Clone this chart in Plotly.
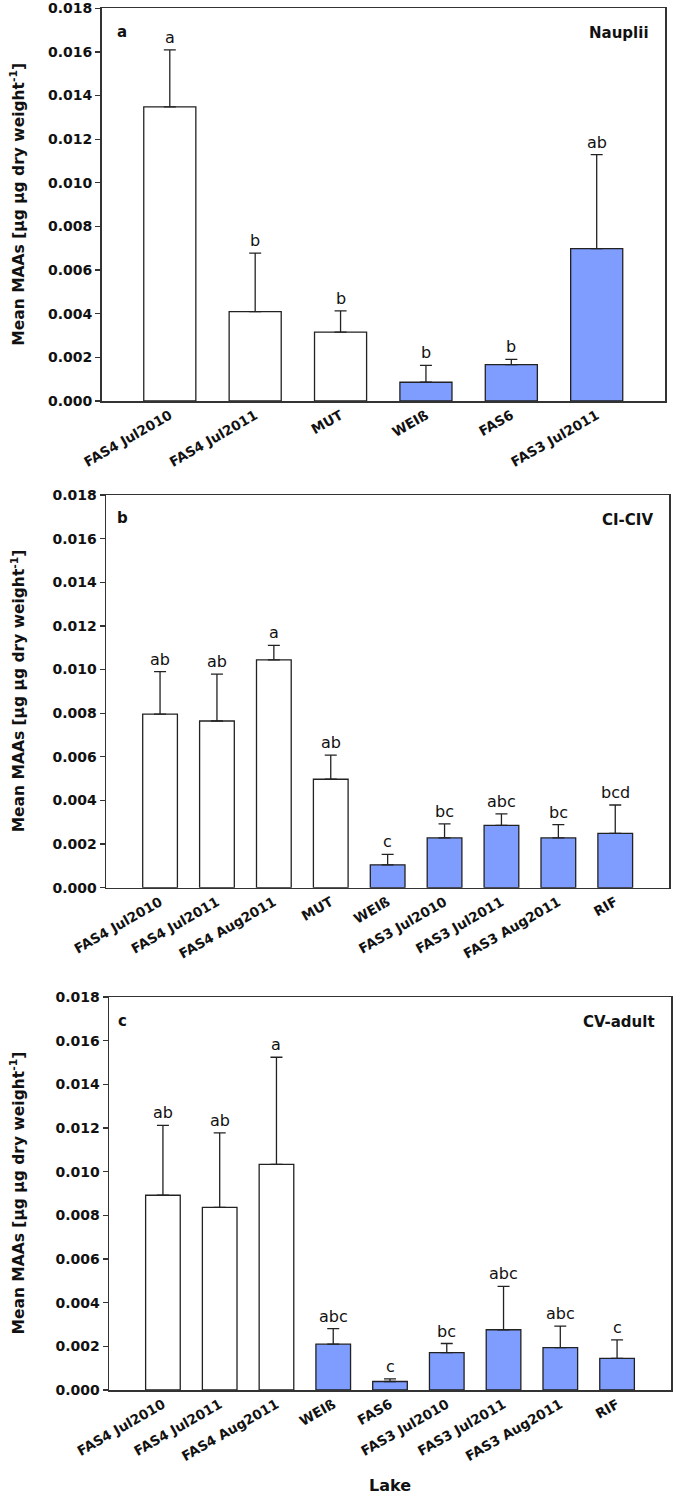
import plotly.graph_objects as go

# ---------------- data ----------------
cats_a = ["FAS4 Jul2010", "FAS4 Jul2011", "MUT", "WEIß", "FAS6", "FAS3 Jul2011"]
mean_a = [0.01348, 0.00410, 0.00316, 0.00086, 0.00167, 0.00698]
sd_a = [0.00261, 0.00268, 0.00097, 0.00077, 0.00024, 0.00431]
letters_a = ["a", "b", "b", "b", "b", "ab"]
group_a = ["open", "open", "open", "filled", "filled", "filled"]

cats_b = ["FAS4 Jul2010", "FAS4 Jul2011", "FAS4 Aug2011", "MUT", "WEIß",
          "FAS3 Jul2010", "FAS3 Jul2011", "FAS3 Aug2011", "RIF"]
mean_b = [0.00796, 0.00764, 0.01044, 0.00497, 0.00105, 0.00228, 0.00286, 0.00228, 0.00249]
sd_b = [0.00194, 0.00215, 0.00067, 0.00111, 0.00048, 0.00065, 0.00052, 0.00061, 0.00130]
letters_b = ["ab", "ab", "a", "ab", "c", "bc", "abc", "bc", "bcd"]
group_b = ["open", "open", "open", "open", "filled", "filled", "filled", "filled", "filled"]

cats_c = ["FAS4 Jul2010", "FAS4 Jul2011", "FAS4 Aug2011", "WEIß", "FAS6",
          "FAS3 Jul2010", "FAS3 Jul2011", "FAS3 Aug2011", "RIF"]
mean_c = [0.00892, 0.00836, 0.01033, 0.00210, 0.00039, 0.00171, 0.00276, 0.00194, 0.00145]
sd_c = [0.00320, 0.00342, 0.00491, 0.00071, 0.00012, 0.00042, 0.00199, 0.00099, 0.00085]
letters_c = ["ab", "ab", "a", "abc", "c", "bc", "abc", "abc", "c"]
group_c = ["open", "open", "open", "filled", "filled", "filled", "filled", "filled", "filled"]

panel_tags = ["a", "b", "c"]
panel_names = ["Nauplii", "CI-CIV", "CV-adult"]
y_ticks = [0.000, 0.002, 0.004, 0.006, 0.008, 0.010, 0.012, 0.014, 0.016, 0.018]
y_title = "Mean MAAs [µg µg dry weight<sup>-1</sup>]"
x_title = "Lake"

# ---------------- styling / layout ----------------
W, H = 675, 1498
FONT = "DejaVu Sans"
FILL = {"open": "#ffffff", "filled": "#7f9dff"}
EDGE = "#222222"
AXC = "#333333"
TXT = "#111111"

# pixel boxes: (left, right, top, bottom)
boxes = [(101.5, 665.0, 8.3, 401.0),
         (106.0, 669.3, 495.0, 887.7),
         (109.0, 671.0, 997.0, 1390.0)]
xranges = [[-0.8, 5.8], [-0.95, 8.95], [-0.95, 8.95]]

panels = [(cats_a, mean_a, sd_a, letters_a, group_a),
          (cats_b, mean_b, sd_b, letters_b, group_b),
          (cats_c, mean_c, sd_c, letters_c, group_c)]

fig = go.Figure()
annotations = []
layout = {}

for i, (cats, means, sds, letters, groups) in enumerate(panels):
    n = i + 1
    xa = "x" if n == 1 else f"x{n}"
    ya = "y" if n == 1 else f"y{n}"
    fig.add_trace(go.Bar(
        x=cats, y=means, xaxis=xa, yaxis=ya, width=0.61,
        marker=dict(color=[FILL[g] for g in groups], line=dict(color=EDGE, width=1.3)),
        error_y=dict(type="data", array=sds, arrayminus=[0] * len(sds), symmetric=False,
                     color=EDGE, thickness=1.3, width=6),
        showlegend=False, hoverinfo="skip",
    ))
    l, r, t, b = boxes[i]
    xkey = "xaxis" if n == 1 else f"xaxis{n}"
    ykey = "yaxis" if n == 1 else f"yaxis{n}"
    layout[xkey] = dict(domain=[l / W, r / W], anchor=ya, range=xranges[i], automargin=False,
                        showline=True, linecolor=AXC, linewidth=1.5, mirror=True,
                        ticks="", tickangle=-30, showgrid=False, zeroline=False,
                        tickfont=dict(family=FONT, size=13.5, color=TXT, weight="bold"))
    layout[ykey] = dict(domain=[1 - b / H, 1 - t / H], anchor=xa, range=[0, 0.018],
                        automargin=False,
                        showline=True, linecolor=AXC, linewidth=1.5, mirror=True,
                        ticks="outside", ticklen=5, tickwidth=1.3, tickcolor=AXC,
                        tickvals=y_ticks, ticktext=[f"{v:.3f}" for v in y_ticks],
                        showgrid=False, zeroline=False,
                        tickfont=dict(family=FONT, size=14, color=TXT, weight="bold"))
    # significance letters
    for c, m, s, lt in zip(cats, means, sds, letters):
        annotations.append(dict(x=c, y=m + s, xref=xa, yref=ya, text=lt, showarrow=False,
                                yanchor="bottom", yshift=1,
                                font=dict(family=FONT, size=16, color=TXT)))
    # panel tag and name
    annotations.append(dict(x=(122 - l) / (r - l), y=(b - (t + 23.5)) / (b - t),
                            xref=f"{xa} domain", yref=f"{ya} domain", text=panel_tags[i],
                            showarrow=False, xanchor="center", yanchor="middle",
                            font=dict(family=FONT, size=15, color=TXT, weight="bold")))
    annotations.append(dict(x=(r - 14 - l) / (r - l), y=(b - (t + 25)) / (b - t),
                            xref=f"{xa} domain", yref=f"{ya} domain", text=panel_names[i],
                            showarrow=False, xanchor="right", yanchor="middle",
                            font=dict(family=FONT, size=15, color=TXT, weight="bold")))
    # y-axis title
    annotations.append(dict(x=18 / W, y=1 - ((t + b) / 2) / H, xref="paper", yref="paper",
                            text=y_title, textangle=-90, showarrow=False,
                            xanchor="center", yanchor="middle",
                            font=dict(family=FONT, size=15.5, color=TXT, weight="bold")))

annotations.append(dict(x=390 / W, y=1 - 1485 / H, xref="paper", yref="paper", text=x_title,
                        showarrow=False, xanchor="center", yanchor="middle",
                        font=dict(family=FONT, size=16, color=TXT, weight="bold")))

fig.update_layout(width=W, height=H, margin=dict(l=0, r=0, t=0, b=0),
                  paper_bgcolor="white", plot_bgcolor="white", bargap=0,
                  annotations=annotations, **layout)

fig.write_html("out.html",
               config={"displayModeBar": False, "staticPlot": True},
               post_script="document.body.style.margin='0';document.body.style.padding='0';"
                           "document.body.style.overflow='hidden';")
